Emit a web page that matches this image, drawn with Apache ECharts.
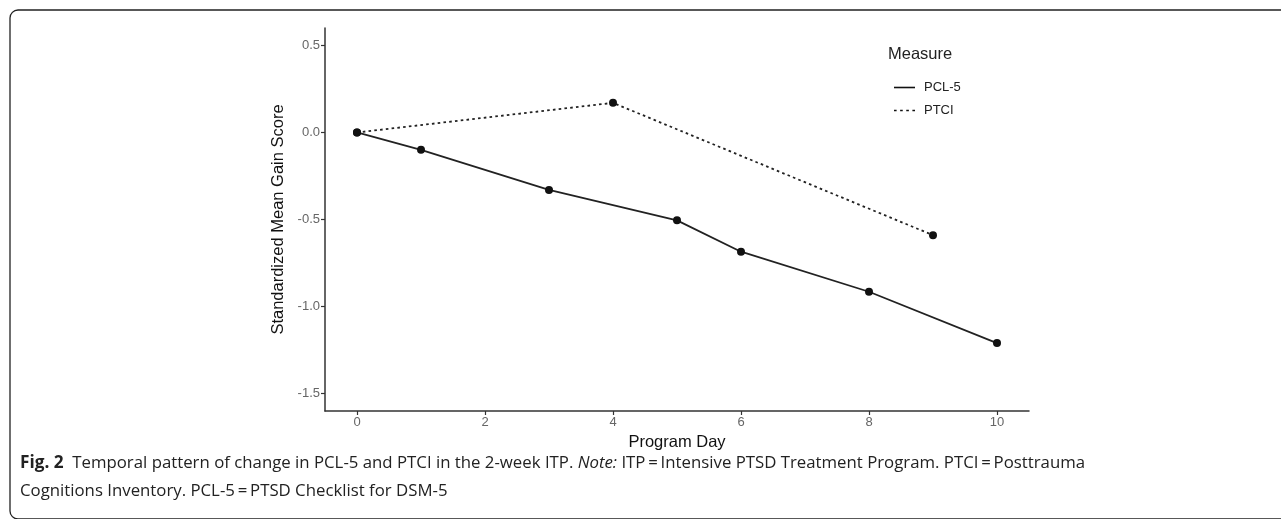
<!DOCTYPE html>
<html>
<head>
<meta charset="utf-8">
<script src="https://cdn.jsdelivr.net/npm/echarts@6/dist/echarts.min.js"></script>
<style>
  html, body { margin: 0; padding: 0; background: #fff; }
  #chart { width: 1281px; height: 519px; }
</style>
</head>
<body>
<div id="chart"></div>
<script>
// values
const pclDays = [0, 1, 3, 5, 6, 8, 10];
const pclScores = [0, -0.10, -0.33, -0.505, -0.685, -0.915, -1.21];
const ptciDays = [0, 4, 9];
const ptciScores = [0, 0.17, -0.59];
const xTicks = [0, 2, 4, 6, 8, 10];
const yTicks = [-1.5, -1.0, -0.5, 0.0, 0.5];

const pclData = pclDays.map((d, i) => [d, pclScores[i]]);
const ptciData = ptciDays.map((d, i) => [d, ptciScores[i]]);

const chart = echarts.init(document.getElementById('chart'), null, {renderer: 'canvas'});

const axisFont = 'Liberation Sans, Arial, sans-serif';
const capFont = '"Open Sans", "Noto Sans", sans-serif';

const option = {
    backgroundColor: '#fff',
    animation: false,
    textStyle: {fontFamily: axisFont},
    grid: {left: 325, right: 252, top: 28, bottom: 108},
    xAxis: {
        type: 'value',
        min: -0.5,
        max: 10.5,
        name: 'Program Day',
        nameLocation: 'middle',
        nameGap: 23,
        nameTextStyle: {color: '#111', fontSize: 16.5, fontFamily: axisFont},
        splitLine: {show: false},
        axisLine: {show: true, onZero: false, lineStyle: {color: '#333', width: 1.5}},
        axisTick: {show: true, length: 4, customValues: xTicks, lineStyle: {color: '#333', width: 1.2}},
        axisLabel: {
            customValues: xTicks,
            color: '#666',
            fontSize: 13,
            margin: 5,
            formatter: v => String(v)
        }
    },
    yAxis: {
        type: 'value',
        min: -1.6,
        max: 0.6,
        name: 'Standardized Mean Gain Score',
        nameLocation: 'middle',
        nameRotate: 90,
        nameGap: 35,
        nameTextStyle: {color: '#111', fontSize: 16.5, fontFamily: axisFont},
        splitLine: {show: false},
        axisLine: {show: true, onZero: false, lineStyle: {color: '#333', width: 1.5}},
        axisTick: {show: true, length: 4, customValues: yTicks, lineStyle: {color: '#333', width: 1.2}},
        axisLabel: {
            customValues: yTicks,
            color: '#666',
            fontSize: 13,
            margin: 5,
            formatter: v => v.toFixed(1)
        }
    },
    legend: {
        orient: 'vertical',
        left: 889,
        top: 76,
        itemGap: 10,
        itemWidth: 21,
        itemHeight: 1.7,
        textStyle: {color: '#222', fontSize: 13, fontFamily: axisFont, padding: [0, 0, 0, 4]},
        data: [
            {name: 'PCL-5', icon: 'path://M0,0H21V1.6H0Z'},
            {name: 'PTCI', icon: 'path://M0,0H2.6V1.6H0Z M6.1,0H8.7V1.6H6.1Z M12.2,0H14.8V1.6H12.2Z M18.3,0H20.9V1.6H18.3Z'}
        ]
    },
    series: [
        {
            name: 'PCL-5',
            type: 'line',
            data: pclData,
            symbol: 'circle',
            symbolSize: 8,
            itemStyle: {color: '#111'},
            lineStyle: {color: '#222', width: 1.8, type: 'solid'}
        },
        {
            name: 'PTCI',
            type: 'line',
            data: ptciData,
            symbol: 'circle',
            symbolSize: 8,
            itemStyle: {color: '#111'},
            lineStyle: {color: '#222', width: 1.8, type: [2.6, 3.2]}
        }
    ],
    graphic: [
        // figure frame (rounded on the left, open at right/bottom edges of the crop)
        {
            type: 'rect',
            shape: {x: 10, y: 10, width: 1300, height: 509, r: 8},
            style: {fill: 'none', stroke: '#222', lineWidth: 1.3},
            silent: true
        },
        {
            type: 'text',
            left: 888,
            top: 46,
            style: {text: 'Measure', fill: '#222', font: '16.5px ' + axisFont}
        },
        {
            type: 'text',
            left: 20,
            top: 449,
            style: {
                text: '{b|Fig. 2}  Temporal pattern of change in PCL-5 and PTCI in the 2-week ITP. {i|Note:} ITP\u2009=\u2009Intensive PTSD Treatment Program. PTCI\u2009=\u2009Posttrauma\nCognitions Inventory. PCL-5\u2009=\u2009PTSD Checklist for DSM-5',
                fill: '#222',
                font: '16.8px ' + capFont,
                lineHeight: 28,
                rich: {
                    b: {fontWeight: 'bold', fontSize: 17.2, fontFamily: capFont, fill: '#222'},
                    i: {fontStyle: 'italic', fontSize: 16.8, fontFamily: capFont, fill: '#222'}
                }
            }
        }
    ]
};

chart.setOption(option);
</script>
</body>
</html>
